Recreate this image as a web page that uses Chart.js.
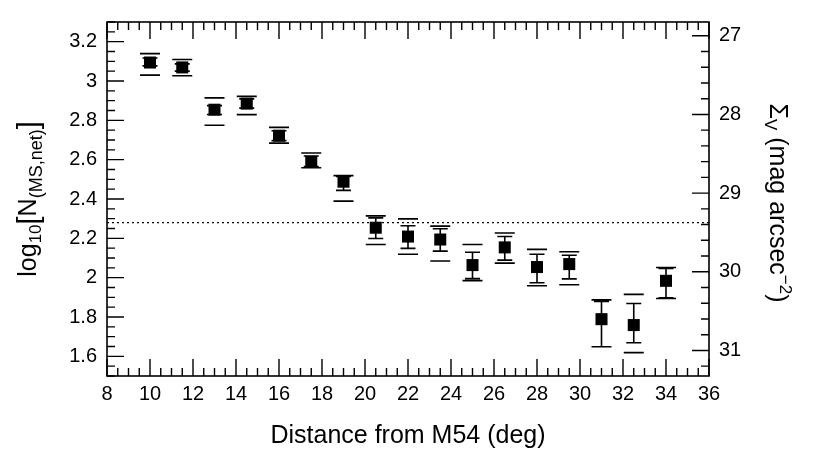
<!DOCTYPE html>
<html>
<head>
<meta charset="utf-8">
<script src="https://cdn.jsdelivr.net/npm/chart.js@4.4.1/dist/chart.umd.min.js"></script>
<style>
  html, body { margin: 0; padding: 0; background: #fff; }
  #wrap { width: 816px; height: 457px; }
</style>
</head>
<body>
<div id="wrap"><canvas id="profile" width="816" height="457"></canvas></div>
<script>
// distance from M54 (deg) and log10 of net MS star counts
const distance = [10, 11.5, 13, 14.5, 16, 17.5, 19, 20.5, 22, 23.5, 25, 26.5, 28, 29.5, 31, 32.5, 34];
const logN     = [3.094, 3.069, 2.854, 2.885, 2.722, 2.589, 2.488, 2.254, 2.209, 2.194, 2.064, 2.154, 2.054, 2.069, 1.789, 1.759, 1.984];
// inner error bars (with stem)
const innerHi  = [3.117, 3.087, 2.875, 2.909, 2.747, 2.619, 2.515, 2.304, 2.264, 2.249, 2.129, 2.209, 2.119, 2.114, 1.879, 1.869, 2.047];
const innerLo  = [3.077, 3.050, 2.830, 2.862, 2.697, 2.565, 2.444, 2.199, 2.149, 2.135, 1.995, 2.089, 1.974, 1.994, 1.649, 1.669, 1.897];
// outer error bars (caps only)
const outerHi  = [3.139, 3.109, 2.914, 2.922, 2.764, 2.634, 2.519, 2.314, 2.299, 2.262, 2.169, 2.227, 2.144, 2.132, 1.887, 1.915, 2.052];
const outerLo  = [3.030, 3.027, 2.775, 2.829, 2.684, 2.559, 2.389, 2.169, 2.119, 2.085, 1.985, 2.074, 1.959, 1.964, 1.649, 1.619, 1.894];
const backgroundLevel = 2.28;

const xTicks  = [8, 10, 12, 14, 16, 18, 20, 22, 24, 26, 28, 30, 32, 34, 36];
const yTicks  = [1.6, 1.8, 2.0, 2.2, 2.4, 2.6, 2.8, 3.0, 3.2];
const sbTicks = [27, 28, 29, 30, 31];

const FONT = "'Liberation Sans', Arial, sans-serif";

// draw a run of text pieces (for sub/superscripts)
function drawRich(ctx, parts, cx, cy, angle) {
    ctx.save();
    ctx.translate(cx, cy);
    ctx.rotate(angle);
    ctx.fillStyle = '#000';
    ctx.textBaseline = 'alphabetic';
    ctx.textAlign = 'left';
    let total = 0;
    parts.forEach(p => {
        ctx.font = p.size + 'px ' + FONT;
        p.w = ctx.measureText(p.text).width;
        total += p.w;
    });
    let x = -total / 2;
    parts.forEach(p => {
        ctx.font = p.size + 'px ' + FONT;
        ctx.fillText(p.text, x, 9 + (p.dy || 0));
        x += p.w;
    });
    ctx.restore();
}

const framePlugin = {
    id: 'framePlugin',
    beforeDatasetsDraw(chart) {
        const ctx = chart.ctx;
        const a = chart.chartArea;
        const xs = chart.scales.x, ys = chart.scales.y, ss = chart.scales.sb;
        ctx.save();
        ctx.strokeStyle = '#000';
        ctx.lineWidth = 1.4;
        ctx.beginPath();
        // x ticks bottom and top, every 0.5
        for (let k = 16; k <= 72; k++) {
            const px = xs.getPixelForValue(k / 2);
            const len = k % 4 === 0 ? 17 : 8;
            ctx.moveTo(px, a.bottom); ctx.lineTo(px, a.bottom - len);
            ctx.moveTo(px, a.top); ctx.lineTo(px, a.top + len);
        }
        // left ticks, every 0.05
        for (let k = 30; k <= 66; k++) {
            const py = ys.getPixelForValue(k * 0.05);
            const len = k % 4 === 0 ? 17 : 8;
            ctx.moveTo(a.left, py); ctx.lineTo(a.left + len, py);
        }
        // right ticks, every 0.2 mag
        for (let k = 135; k <= 156; k++) {
            const v = k * 0.2;
            if (v < ss.min || v > ss.max) continue;
            const py = ss.getPixelForValue(v);
            const len = k % 5 === 0 ? 17 : 8;
            ctx.moveTo(a.right, py); ctx.lineTo(a.right - len, py);
        }
        ctx.stroke();

        ctx.lineWidth = 1.6;
        ctx.strokeRect(a.left, a.top, a.right - a.left, a.bottom - a.top);

        // background level
        ctx.lineWidth = 1.3;
        ctx.setLineDash([2, 3]);
        const by = ys.getPixelForValue(backgroundLevel);
        ctx.beginPath();
        ctx.moveTo(a.left, by); ctx.lineTo(a.right, by);
        ctx.stroke();
        ctx.setLineDash([]);

        // error bars
        distance.forEach((d, i) => {
            const px = xs.getPixelForValue(d);
            const iH = ys.getPixelForValue(innerHi[i]), iL = ys.getPixelForValue(innerLo[i]);
            const oH = ys.getPixelForValue(outerHi[i]), oL = ys.getPixelForValue(outerLo[i]);
            ctx.lineWidth = 1.6;
            ctx.beginPath();
            ctx.moveTo(px, iH); ctx.lineTo(px, iL);
            ctx.moveTo(px - 7.5, iH); ctx.lineTo(px + 7.5, iH);
            ctx.moveTo(px - 7.5, iL); ctx.lineTo(px + 7.5, iL);
            ctx.moveTo(px - 10, oH); ctx.lineTo(px + 10, oH);
            ctx.moveTo(px - 10, oL); ctx.lineTo(px + 10, oL);
            ctx.stroke();
        });
        ctx.restore();
    },
    afterDraw(chart) {
        const ctx = chart.ctx;
        const a = chart.chartArea;
        const cy = (a.top + a.bottom) / 2;
        drawRich(ctx, [
            { text: 'log', size: 25 },
            { text: '10', size: 17, dy: 5 },
            { text: '[', size: 29, dy: 2 },
            { text: 'N', size: 25 },
            { text: '(MS,net)', size: 18, dy: 6 },
            { text: ']', size: 29, dy: 2 }
        ], 27, cy, -Math.PI / 2);
        drawRich(ctx, [
            { text: '\u03A3', size: 25 },
            { text: 'V', size: 17, dy: 5 },
            { text: ' (mag arcsec', size: 25 },
            { text: '\u22122', size: 17, dy: -10 },
            { text: ')', size: 25 }
        ], 779, cy + 4, Math.PI / 2);
    }
};

new Chart(document.getElementById('profile'), {
    type: 'scatter',
    data: {
        datasets: [{
            data: distance.map((d, i) => ({ x: d, y: logN[i] })),
            pointStyle: 'rect',
            pointRadius: 8.5,
            pointBackgroundColor: '#000',
            pointBorderWidth: 0,
            showLine: false
        }]
    },
    options: {
        responsive: false,
        animation: false,
        events: [],
        layout: { padding: { top: 16 } },
        scales: {
            x: {
                type: 'linear',
                min: 8,
                max: 36,
                afterBuildTicks: s => { s.ticks = xTicks.map(v => ({ value: v })); },
                afterFit: s => { s.height = 81; },
                ticks: { color: '#000', padding: 6, maxRotation: 0, font: { family: FONT, size: 20 } },
                grid: { display: false, drawTicks: false },
                border: { display: false },
                title: {
                    display: true,
                    text: 'Distance from M54 (deg)',
                    color: '#000',
                    font: { family: FONT, size: 25 },
                    padding: { top: 0, bottom: 6 }
                }
            },
            y: {
                type: 'linear',
                position: 'left',
                min: 1.5,
                max: 3.3,
                afterBuildTicks: s => { s.ticks = yTicks.map(v => ({ value: v })); },
                afterFit: s => { s.width = 107; },
                ticks: {
                    color: '#000', padding: 10,
                    font: { family: FONT, size: 20 },
                    callback: v => String(+v.toFixed(1))
                },
                grid: { display: false, drawTicks: false },
                border: { display: false }
            },
            sb: {
                type: 'linear',
                position: 'right',
                reverse: true,
                min: 26.825,
                max: 31.325,
                afterBuildTicks: s => { s.ticks = sbTicks.map(v => ({ value: v })); },
                afterFit: s => { s.width = 107; },
                ticks: { color: '#000', padding: 10, font: { family: FONT, size: 20 } },
                grid: { display: false, drawTicks: false },
                border: { display: false }
            }
        },
        plugins: {
            legend: { display: false },
            tooltip: { enabled: false }
        }
    },
    plugins: [framePlugin]
});
</script>
</body>
</html>
